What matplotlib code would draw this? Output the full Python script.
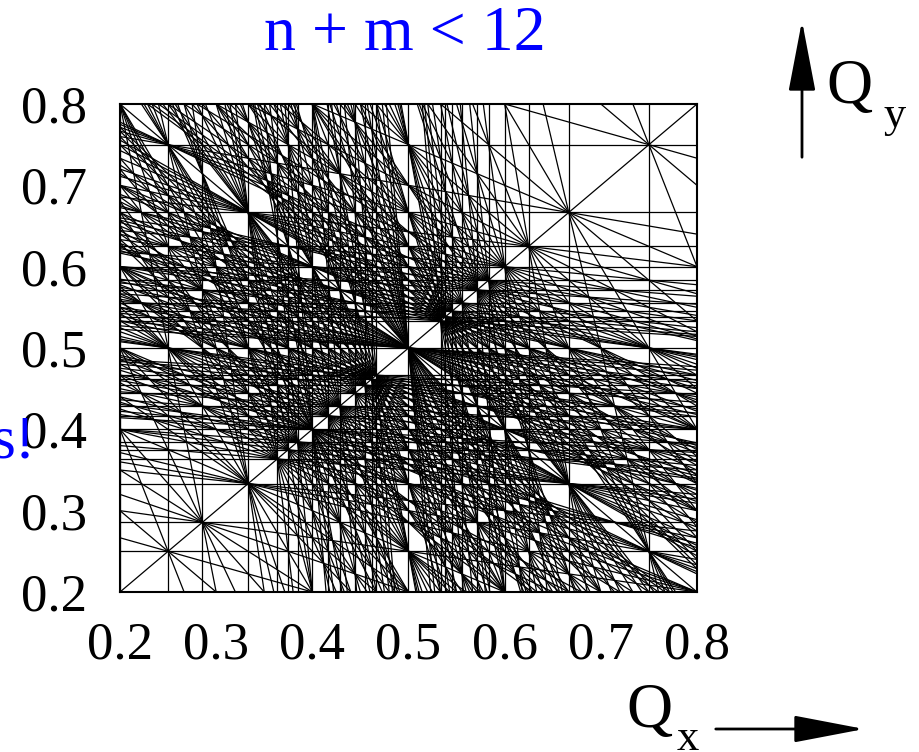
import math
import matplotlib.pyplot as plt

plt.rcParams['font.family'] = ['Liberation Serif', 'DejaVu Serif']

# tune window and resonance orders
q_min, q_max = 0.2, 0.8
max_order = 15        # finest squares next to (0.5, 0.5) sit at 7/15 and 8/15
# which p survive, as 2p - (n+m): 2/7, 1/4, 5/8, 7/12 kept; 2/9, 3/10, 5/7 dropped
keep_low, keep_high = -3, 2

ticks = [0.2, 0.3, 0.4, 0.5, 0.6, 0.7, 0.8]
tick_labels = ['0.2', '0.3', '0.4', '0.5', '0.6', '0.7', '0.8']
title = 'n + m < 12'
side_note = 's!'

# resonance lines n*Qx + m*Qy = p
lines = []
for n in range(0, max_order + 1):
    for m in range(0, max_order + 1 - n):
        N = n + m
        if N == 0:
            continue
        for p in range(0, N + 1):
            if math.gcd(math.gcd(n, m), p) != 1:
                continue
            if not (q_min * N <= p <= q_max * N):
                continue
            if keep_low <= 2 * p - N <= keep_high:
                lines.append((n, m, p))
# coupling diagonal Qx - Qy = 0
lines.append((1, -1, 0))

fig = plt.figure(figsize=(9.2, 7.52), dpi=100)
ax = fig.add_axes([120 / 920, 1 - 592 / 752, 577 / 920, 488 / 752])

for n, m, p in lines:
    if m == 0:
        ax.axvline(p / n, color='black', lw=0.9)
    elif n == 0:
        ax.axhline(p / m, color='black', lw=0.9)
    else:
        xs = [q_min - 1, q_max + 1]
        ys = [(p - n * x) / m for x in xs]
        ax.plot(xs, ys, color='black', lw=0.9)

ax.set_xlim(q_min, q_max)
ax.set_ylim(q_min, q_max)
ax.set_xticks(ticks)
ax.set_xticklabels(tick_labels)
ax.set_yticks(ticks)
ax.set_yticklabels(tick_labels)
ax.tick_params(axis='x', length=0, pad=21, labelsize=38)
ax.tick_params(axis='y', length=0, pad=24, labelsize=38)
for s in ax.spines.values():
    s.set_linewidth(1.5)

fig.text(405 / 920, 702 / 752, title, color='blue', fontsize=46,
         ha='center', va='baseline')
fig.text(36 / 920, 295 / 752, side_note, color='blue', fontsize=44,
         ha='right', va='baseline')

# axis arrows and labels
arrow = dict(arrowstyle='-|>,head_length=2.2,head_width=0.42',
             mutation_scale=20, color='black', lw=2)
ax.annotate('', xy=(802, 734), xytext=(802, 592), xycoords='figure pixels',
            textcoords='figure pixels', arrowprops=arrow, annotation_clip=False)
ax.annotate('', xy=(867, 23), xytext=(713, 23), xycoords='figure pixels',
            textcoords='figure pixels', arrowprops=arrow, annotation_clip=False)
fig.text(826 / 920, 649 / 752, 'Q', fontsize=46, ha='left', va='baseline')
fig.text(884 / 920, 625 / 752, 'y', fontsize=32, ha='left', va='baseline')
fig.text(626 / 920, 25 / 752, 'Q', fontsize=46, ha='left', va='baseline')
fig.text(677 / 920, 2 / 752, 'x', fontsize=32, ha='left', va='baseline')

fig.savefig('out.png', dpi=100)
